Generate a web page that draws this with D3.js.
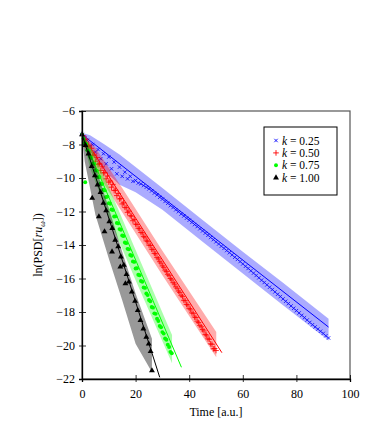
<!DOCTYPE html>
<html>
<head>
<meta charset="utf-8">
<script src="https://cdn.jsdelivr.net/npm/d3@7"></script>
<style>
body{margin:0;background:#fff;}
</style>
</head>
<body>
<div id="canvas"></div>
<script>
// legend labels / colours
var labels = ['0.25','0.50','0.75','1.00'];
var colors = ['#0000ff','#ff0000','#00ff00','#000000'];
var serif = '"Liberation Serif","DejaVu Serif",serif';

var xTicks = [0,20,40,60,80,100];
var yTicks = [-6,-8,-10,-12,-14,-16,-18,-20,-22];

// fitted lines (start/end)
var fitT = [[0,92],[0,52.2],[0,37.1],[0,29]];
var fitV = [[-7.4,-18.9],[-7.4,-20.43],[-7.4,-21.3],[-7.4,-21.9]];

// shaded bands: time, upper, lower
var bandT = [
  [0,3,8,14,20,30,45,60,75,92],
  [0,5,15,30,50.1],
  [0,3,10,20,33.6],
  [0,1,5,10,15,20,26.1]
];
var bandHi = [
  [-7.30,-7.45,-7.95,-8.60,-9.35,-10.60,-12.50,-14.40,-16.25,-18.40],
  [-7.35,-8.20,-10.60,-14.35,-19.20],
  [-7.35,-8.05,-10.55,-14.30,-19.37],
  [-7.35,-7.60,-9.30,-11.80,-14.40,-16.90,-19.60]
];
var bandLo = [
  [-7.50,-8.40,-9.50,-10.40,-10.85,-11.90,-13.80,-15.70,-17.60,-19.70],
  [-7.45,-9.55,-12.05,-15.80,-20.70],
  [-7.45,-9.40,-12.35,-16.10,-21.06],
  [-7.45,-9.00,-12.20,-14.80,-17.30,-19.90,-21.60]
];

// k = 0.25, sampled every 1 time unit from t = 0
var blueV = [-7.40,-7.60,-7.75,-8.10,-8.00,-8.45,-8.30,-8.85,-8.55,-9.15,
  -8.75,-9.45,-9.05,-9.75,-9.35,-9.90,-9.65,-10.05,-9.90,-10.20,
  -10.15,-10.30,-10.35,-10.45,-10.55,-10.65,-10.77,-10.90,-11.01,-11.15,
  -11.26,-11.40,-11.51,-11.65,-11.76,-11.90,-12.01,-12.15,-12.27,-12.40,
  -12.52,-12.65,-12.78,-12.90,-13.03,-13.16,-13.29,-13.42,-13.55,-13.68,
  -13.81,-13.94,-14.07,-14.20,-14.33,-14.46,-14.59,-14.73,-14.86,-14.99,
  -15.13,-15.27,-15.40,-15.54,-15.68,-15.82,-15.96,-16.10,-16.24,-16.38,
  -16.52,-16.66,-16.80,-16.94,-17.08,-17.22,-17.36,-17.50,-17.64,-17.78,
  -17.92,-18.06,-18.20,-18.34,-18.48,-18.62,-18.76,-18.89,-19.02,-19.15,
  -19.28,-19.42,-19.55];

// k = 0.50, sampled every 0.5 from t = 0.5
var redV = [-7.48,-7.85,-7.68,-8.15,-8.03,-8.45,-8.23,-8.65,-8.58,-9.00,
  -8.78,-9.20,-9.13,-9.55,-9.33,-9.70,-9.68,-10.05,-9.88,-10.25,
  -10.18,-10.55,-10.38,-10.75,-10.73,-11.05,-10.93,-11.25,-11.23,-11.55,
  -11.48,-11.75,-11.78,-12.05,-11.98,-12.25,-12.28,-12.55,-12.48,-12.75,
  -12.78,-13.00,-13.03,-13.25,-13.28,-13.50,-13.53,-13.75,-13.78,-14.00,
  -14.03,-14.25,-14.28,-14.50,-14.53,-14.75,-14.83,-15.00,-15.08,-15.25,
  -15.33,-15.50,-15.58,-15.75,-15.83,-16.00,-16.08,-16.25,-16.33,-16.50,
  -16.58,-16.75,-16.83,-17.00,-17.08,-17.30,-17.33,-17.55,-17.58,-17.80,
  -17.83,-18.05,-18.08,-18.30,-18.33,-18.55,-18.63,-18.80,-18.88,-19.05,
  -19.13,-19.35,-19.38,-19.60,-19.63,-19.90,-19.93,-20.20,-20.18,-20.30];

// k = 0.75, sampled every 0.5 from t = 0.5
var greenV = [-7.64,-7.93,-7.96,-8.35,-8.39,-8.73,-8.81,-9.15,-9.14,-9.53,
  -9.56,-9.95,-9.94,-10.33,-10.36,-10.70,-10.74,-11.13,-11.11,-11.50,
  -11.54,-11.88,-11.91,-12.30,-12.29,-12.68,-12.71,-13.05,-13.09,-13.43,
  -13.46,-13.85,-13.89,-14.23,-14.26,-14.60,-14.64,-14.98,-15.01,-15.40,
  -15.39,-15.78,-15.81,-16.15,-16.19,-16.53,-16.56,-16.90,-16.99,-17.28,
  -17.36,-17.70,-17.74,-18.08,-18.11,-18.40,-18.54,-18.83,-18.91,-19.20,
  -19.29,-19.58,-19.66,-19.95,-20.09,-20.38,-20.46];
var greenExtraT = [0,1.2];
var greenExtraV = [-7.4,-10.25];

// k = 1.00
var blackT = [0,1.3,2.4,3.6,4.8,5.8,6.9,8.0,9.0,10.2,11.3,12.4,13.5,14.5,15.6,16.6,
  17.5,18.6,19.8,20.8,21.8,22.9,24.0,24.9,25.6,26.1,
  3.8,6.3,8.4,11.2,14.3,16.2];
var blackV = [-7.4,-8.05,-8.55,-9.3,-9.85,-10.4,-10.85,-11.5,-11.95,-12.6,-13.0,-13.7,-14.1,-14.7,-15.2,-15.75,
  -16.2,-16.8,-17.35,-17.9,-18.5,-19.0,-19.5,-19.9,-20.35,-21.5,
  -11.2,-12.3,-13.2,-14.4,-15.3,-16.3];

// points per series
var series = [
  blueV.map(function(v,i){return {t:i, v:v};}),
  redV.map(function(v,i){return {t:0.5+i*0.5, v:v};}),
  greenV.map(function(v,i){return {t:0.5+i*0.5, v:v};})
    .concat(greenExtraV.map(function(v,i){return {t:greenExtraT[i], v:v};})),
  blackV.map(function(v,i){return {t:blackT[i], v:v};})
];

var W = 366, H = 431;
var m = {t:111, r:16, b:52, l:82};
var w = W - m.l - m.r, h = H - m.t - m.b;

var svg = d3.select('#canvas').append('svg')
  .attr('width',W).attr('height',H)
  .attr('font-family',serif);
var plot = svg.append('g')
  .attr('transform','translate('+m.l+','+m.t+')');

var scaleX = d3.scaleLinear().domain([0,100]).range([0,w]);
var scaleY = d3.scaleLinear().domain([-22,-6]).range([h,0]);

var area = d3.area()
  .x(function(d){return scaleX(d.t);})
  .y0(function(d){return scaleY(d.lo);})
  .y1(function(d){return scaleY(d.hi);});
var line = d3.line()
  .x(function(d){return scaleX(d.t);})
  .y(function(d){return scaleY(d.v);});

var symbols = [
  d3.symbol().type(d3.symbolX).size(9),
  d3.symbol().type(d3.symbolPlus || d3.symbolCross).size(12),
  d3.symbol().type(d3.symbolCircle).size(12),
  d3.symbol().type(d3.symbolTriangle).size(15)
];
var stroked = [true,true,false,false];

var body = plot.append('g');

series.forEach(function(pts,k){
  var g = body.append('g').attr('class','series');
  var band = bandT[k].map(function(t,i){return {t:t, hi:bandHi[k][i], lo:bandLo[k][i]};});
  g.append('path')
    .datum(band)
    .attr('d',area)
    .style('fill',colors[k])
    .style('fill-opacity',k==3?0.4:0.33)
    .style('stroke','none');
  g.selectAll('.pt')
    .data(pts)
    .enter()
    .append('path')
    .attr('class','pt')
    .attr('transform',function(d){return 'translate('+scaleX(d.t)+','+scaleY(d.v)+')';})
    .attr('d',symbols[k])
    .style('fill',stroked[k]?'none':colors[k])
    .style('stroke',stroked[k]?colors[k]:'none')
    .style('stroke-width',0.8);
  g.append('path')
    .datum(fitT[k].map(function(t,i){return {t:t, v:fitV[k][i]};}))
    .attr('d',line)
    .style('fill','none')
    .style('stroke',colors[k])
    .style('stroke-width',1);
});

// frame
plot.append('rect')
  .attr('width',w).attr('height',h)
  .style('fill','none').style('stroke','#555').style('stroke-width',1.2);

var axisX = d3.axisBottom(scaleX).tickValues(xTicks).tickSize(3).tickFormat(d3.format('d'));
var axisY = d3.axisLeft(scaleY).tickValues(yTicks).tickSize(3)
  .tickFormat(function(d){return d<0 ? '\u2212'+Math.abs(d) : d;});

var gx = plot.append('g').attr('transform','translate(0,'+h+')').call(axisX);
var gy = plot.append('g').call(axisY);
[gx,gy].forEach(function(g){
  g.attr('font-family',serif).attr('font-size',12);
  g.select('.domain').style('stroke','#000').style('stroke-width',1.3);
  g.selectAll('.tick line').style('stroke','#000').style('stroke-width',0.8);
  g.selectAll('text').style('fill','#000');
});
gx.selectAll('.tick line').attr('y1',-4).attr('y2',3);
gx.selectAll('.tick text').attr('y',10);
gy.selectAll('.tick line').attr('x1',4).attr('x2',-3);
gy.selectAll('.tick text').attr('x',-7);

// axis titles
svg.append('text')
  .attr('x',m.l + scaleX(50)).attr('y',416)
  .attr('text-anchor','middle')
  .attr('font-size',12)
  .text('Time [a.u.]');

var yl = svg.append('text')
  .attr('transform','translate(42,'+(m.t+scaleY(-14))+') rotate(-90)')
  .attr('text-anchor','middle')
  .attr('font-size',12);
yl.append('tspan').text('ln(PSD[');
yl.append('tspan').style('font-style','italic').text('ru');
yl.append('tspan').attr('dy',3).attr('font-size',8).style('font-style','italic').text('\u03c9');
yl.append('tspan').attr('dy',-3).text('])');

// legend
var lg = svg.append('g').attr('transform','translate(264,127)');
lg.append('rect').attr('width',73).attr('height',68)
  .style('fill','#fff').style('stroke','#000').style('stroke-width',1);
labels.forEach(function(l,k){
  var row = lg.append('g').attr('transform','translate(12,'+(13.5+k*12.4)+')');
  row.append('path').attr('d',symbols[k])
    .style('fill',stroked[k]?'none':colors[k])
    .style('stroke',stroked[k]?colors[k]:'none')
    .style('stroke-width',0.9);
  row.append('text').attr('x',6).attr('y',4).attr('font-size',11.5)
    .html('<tspan font-style="italic">k</tspan> = '+l);
});
</script>
</body>
</html>
